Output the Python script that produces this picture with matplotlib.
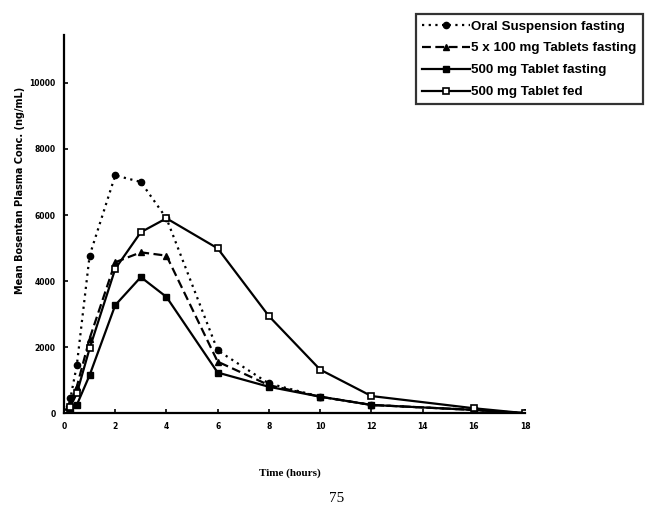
import matplotlib.pyplot as plt

# =====================================================
# Data
# =====================================================

time_h = [0, 0.25, 0.5, 1, 2, 3, 4, 6, 8, 10, 12, 16, 18]

oral_susp = [0, 450, 1450, 4770, 7200, 7000, 5900, 1900, 900, 500, 250, 100, 0]
tabs_5x100 = [0, 350, 800, 2260, 4570, 4870, 4770, 1560, 850, 500, 250, 100, 0]
tab_500_fast = [0, 100, 250, 1150, 3270, 4120, 3520, 1230, 800, 500, 250, 100, 0]
tab_500_fed = [0, 200, 600, 1960, 4370, 5480, 5900, 4990, 2940, 1320, 520, 150, 0]

labels = [
    "Oral Suspension fasting",
    "5 x 100 mg Tablets fasting",
    "500 mg Tablet fasting",
    "500 mg Tablet fed",
]

x_ticks = [0, 2, 4, 6, 8, 10, 12, 14, 16, 18]
y_ticks = [0, 2000, 4000, 6000, 8000, 10000]

# =====================================================
# Figure
# =====================================================

fig = plt.figure(figsize=(6.53, 5.07), dpi=100)
ax = fig.add_axes([0.098, 0.185, 0.706, 0.746])

ax.plot(time_h, oral_susp, linestyle=(0, (1, 2)), color='black',
        linewidth=1.6, marker='o', markersize=4.5, label=labels[0])
ax.plot(time_h, tabs_5x100, linestyle=(0, (4, 2)), color='black',
        linewidth=1.6, marker='^', markersize=4.5, label=labels[1])
ax.plot(time_h, tab_500_fast, linestyle='-', color='black',
        linewidth=1.6, marker='s', markersize=4.5, label=labels[2])
ax.plot(time_h, tab_500_fed, linestyle='-', color='black',
        linewidth=1.6, marker='s', markersize=4.5, markerfacecolor='white',
        markeredgewidth=1.2, label=labels[3])

ax.set_xlim(0, 18)
ax.set_ylim(0, 11450)

ax.spines['top'].set_visible(False)
ax.spines['right'].set_visible(False)
ax.spines['left'].set_linewidth(1.6)
ax.spines['bottom'].set_linewidth(1.6)

ax.set_xticks(x_ticks)
ax.set_yticks(y_ticks)
ax.tick_params(direction='in', length=3, width=1.2, labelsize=5.5, pad=6)
for lab in ax.get_xticklabels() + ax.get_yticklabels():
    lab.set_fontweight('bold')

ax.set_xlabel('Time (hours)', fontsize=8, fontweight='bold',
              family='Liberation Serif')
ax.xaxis.set_label_coords(0.49, -0.145)
ax.set_ylabel('Mean Bosentan Plasma Conc. (ng/mL)', fontsize=7,
              fontweight='bold', family='DejaVu Sans')
ax.yaxis.set_label_coords(-0.085, 0.59)

leg = fig.legend(
    loc='upper right',
    bbox_to_anchor=(0.984, 0.972),
    prop={'family': 'Liberation Sans', 'weight': 'bold', 'size': 9.6},
    frameon=True,
    fancybox=False,
    handlelength=3.6,
    handletextpad=0.1,
    labelspacing=0.72,
    borderpad=0.45,
    borderaxespad=0,
)
leg.get_frame().set_edgecolor('black')
leg.get_frame().set_linewidth(1.6)

# page number at the bottom of the scan
fig.text(0.516, 0.003, '75', fontsize=11, family='Liberation Serif',
         ha='center', va='bottom')

fig.savefig('out.png', dpi=100)
